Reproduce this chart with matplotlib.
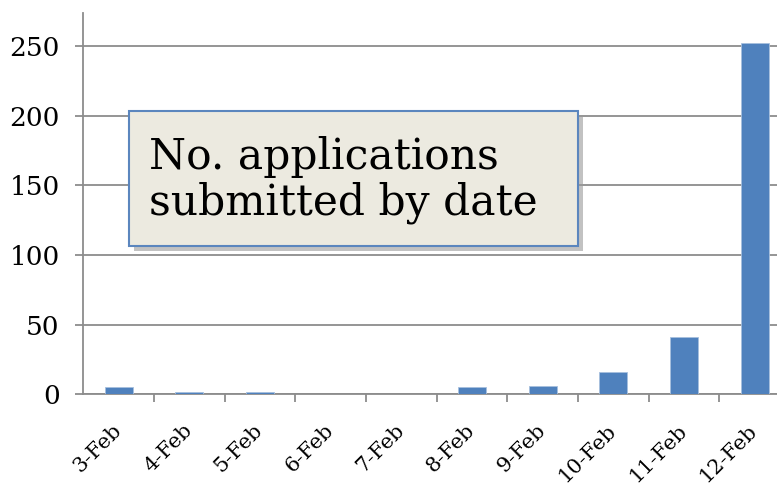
import matplotlib

matplotlib.use("Agg")
import matplotlib.pyplot as plt
from matplotlib.patches import Rectangle

dates = ["3-Feb", "4-Feb", "5-Feb", "6-Feb", "7-Feb",
         "8-Feb", "9-Feb", "10-Feb", "11-Feb", "12-Feb"]
applications = [5, 2, 2, 0, 0, 5, 6, 16, 41, 252]
y_ticks = [0, 50, 100, 150, 200, 250]

BAR = "#4F81BD"
GRID = "#8C8C8C"
W, H = 777, 491

plt.rcParams["font.family"] = ["DejaVu Serif"]

fig = plt.figure(figsize=(W / 100, H / 100), dpi=100)
# axes runs off the right edge like the original screenshot
ax = fig.add_axes([83.3 / W, 1 - 394.3 / H, (790 - 83.3) / W, (394.3 - 12.7) / H])

x = range(len(dates))
ax.bar(x, applications, width=0.4, color=BAR, edgecolor="#A7C0DE", linewidth=0.6, zorder=3)

ax.set_xlim(-0.5, len(dates) - 0.5)
ax.set_ylim(0, 274)
ax.set_yticks(y_ticks)
ax.set_yticklabels([str(v) for v in y_ticks], fontsize=19)
ax.yaxis.grid(True, color=GRID, linewidth=1.3, zorder=0)
ax.set_axisbelow(True)

# category boundaries get the tick marks, labels sit (slightly left of) the centres
ax.set_xticks([i - 0.5 for i in range(1, len(dates))])
ax.set_xticklabels([])
ax.set_xticks([i - 0.1 for i in x], minor=True)
ax.set_xticklabels(dates, minor=True, rotation=45, ha="right", rotation_mode="anchor",
                   fontsize=15)
ax.tick_params(axis="x", which="minor", length=0, pad=19)
ax.tick_params(axis="x", which="major", length=6, width=1.3, color=GRID)
ax.tick_params(axis="y", length=6, width=1.3, color=GRID, pad=11)

for side in ["top", "right"]:
    ax.spines[side].set_visible(False)
for side in ["left", "bottom"]:
    ax.spines[side].set_color(GRID)
    ax.spines[side].set_linewidth(1.3)

# callout box with drop shadow
x0, y0, x1, y1 = 129.3, 111, 578.3, 246
shadow = Rectangle(((x0 + 5) / W, (H - y1 - 5) / H), (x1 - x0) / W, (y1 - y0) / H,
                   transform=fig.transFigure, facecolor="#9A9A9A", edgecolor="none",
                   alpha=0.6, zorder=5)
fig.patches.append(shadow)
box = Rectangle((x0 / W, (H - y1) / H), (x1 - x0) / W, (y1 - y0) / H,
                transform=fig.transFigure, facecolor="#ECEAE0", edgecolor="#5B86BE",
                linewidth=1.5, zorder=6)
fig.patches.append(box)
fig.text(149 / W, (H - 180) / H, "No. applications\nsubmitted by date",
         fontsize=30.5, linespacing=1.1, va="center", ha="left", zorder=7)

fig.savefig("out.png", dpi=100)
